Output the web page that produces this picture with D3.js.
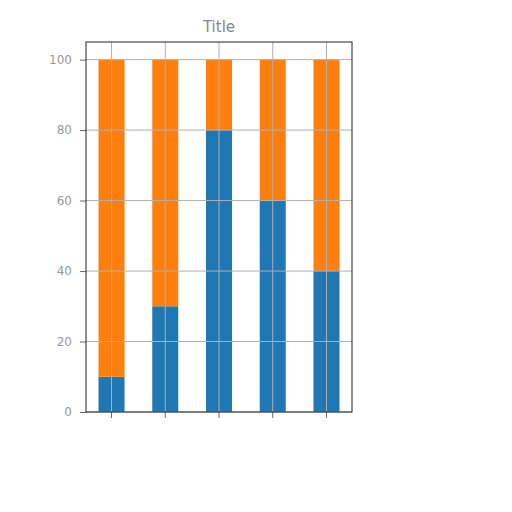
<!DOCTYPE html>
<html><head><meta charset="utf-8">
<script src="https://cdn.jsdelivr.net/npm/d3@7"></script>
<style>body{margin:0;background:#fff}svg{display:block}</style>
</head><body>
<svg id="c" width="512" height="512"></svg>
<script>
const categories = ["A","B","C","D","E"];
const blueValues = [10, 30, 80, 60, 40];
const orangeValues = [90, 70, 20, 40, 60];
const yTicks = [0, 20, 40, 60, 80, 100];
const titleText = "Title";

const svg = d3.select("#c");
const L = 86, R = 352, T = 42, B = 412;
const x = d3.scaleBand().domain(categories).range([L, R]).paddingInner(0.516).paddingOuter(0.233);
const y = d3.scaleLinear().domain([0, 105]).range([B, T]);

const stackData = categories.map((c, i) => ({cat: c, blue: blueValues[i], orange: orangeValues[i]}));
const series = d3.stack().keys(["blue", "orange"])(stackData);
const colors = {blue: "#1f77b4", orange: "#ff7f0e"};

svg.append("rect").attr("x", L).attr("y", T).attr("width", R - L).attr("height", B - T).attr("fill", "#fff");

svg.append("g").selectAll("g").data(series).join("g")
  .attr("fill", d => colors[d.key])
  .selectAll("rect").data(d => d).join("rect")
  .attr("x", d => x(d.data.cat))
  .attr("width", x.bandwidth())
  .attr("y", d => y(d[1]))
  .attr("height", d => y(d[0]) - y(d[1]));

// grid
const grid = svg.append("g").attr("stroke", "#b0b0b0").attr("stroke-width", 1);
grid.selectAll("line.h").data(yTicks).join("line")
  .attr("x1", L).attr("x2", R).attr("y1", d => y(d)).attr("y2", d => y(d));
grid.selectAll("line.v").data(categories).join("line")
  .attr("y1", T).attr("y2", B)
  .attr("x1", d => x(d) + x.bandwidth() / 2).attr("x2", d => x(d) + x.bandwidth() / 2);

// axes
const yAxis = svg.append("g").attr("transform", `translate(${L},0)`)
  .call(d3.axisLeft(y).tickValues(yTicks).tickSize(6).tickPadding(8));
yAxis.select(".domain").remove();
yAxis.selectAll("text").attr("fill", "#999").attr("font-family", "DejaVu Sans").attr("font-size", 12);
yAxis.selectAll("line").attr("stroke", "#666");

const xAxis = svg.append("g").attr("transform", `translate(0,${B})`)
  .call(d3.axisBottom(x).tickSize(6).tickFormat(""));
xAxis.select(".domain").remove();
xAxis.selectAll("line").attr("stroke", "#666");

svg.append("rect").attr("x", L).attr("y", T).attr("width", R - L).attr("height", B - T)
  .attr("fill", "none").attr("stroke", "#222").attr("stroke-width", 1);

svg.append("text").attr("x", (L + R) / 2).attr("y", 32).attr("text-anchor", "middle")
  .attr("font-family", "DejaVu Sans").attr("font-size", 15).attr("fill", "#888").text(titleText);
</script>
</body></html>
